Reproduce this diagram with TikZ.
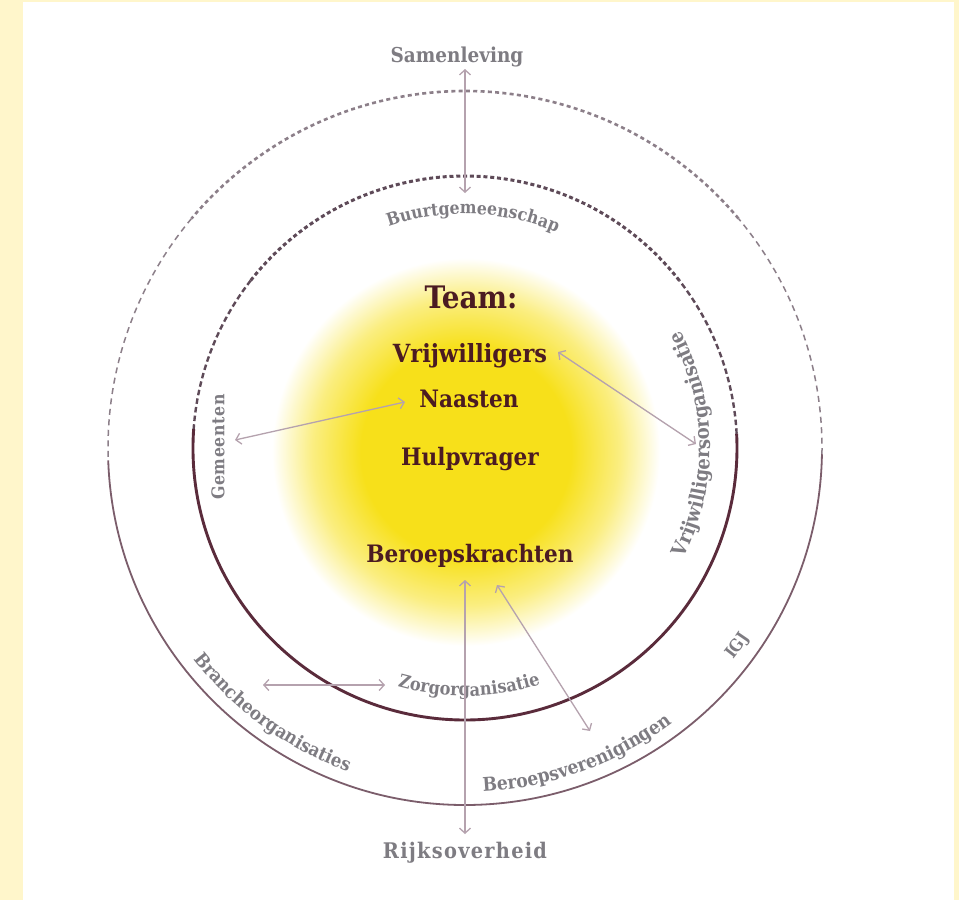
\documentclass[tikz,border=0pt]{standalone}
\usepackage{fontspec}
\setmainfont{DejaVu Serif Condensed}
\newfontfamily\lsfive{DejaVu Serif Condensed}[LetterSpace=5]
\newfontfamily\lssix{DejaVu Serif Condensed}[LetterSpace=6]
\newfontfamily\lstwelve{DejaVu Serif Condensed}[LetterSpace=12]
\newfontfamily\lsfour{DejaVu Serif Condensed}[LetterSpace=4]
\usetikzlibrary{arrows.meta,decorations.text}
\definecolor{cream}{HTML}{FFF6CB}
\definecolor{yel}{HTML}{F7E01A}
\definecolor{teamc}{HTML}{4B1B22}
\definecolor{lblgray}{HTML}{7E7C82}
\definecolor{arrowc}{HTML}{B5A2AE}
\definecolor{outerdc}{HTML}{8C7F89}
\definecolor{outersc}{HTML}{7B5D6B}
\definecolor{innerdc}{HTML}{5E4A58}
\definecolor{innersc}{HTML}{5A2B3B}
\pgfdeclareradialshading{glow}{\pgfpointorigin}{color(0bp)=(yel);color(13bp)=(yel);color(19bp)=(yel!55!white);color(24bp)=(white);color(50bp)=(white)}
\tikzset{
  outerdash/.style={draw=outerdc,line width=1.5pt,dash pattern=on 6pt off 4.5pt},
  outerdot/.style={draw=outerdc,line width=2.6pt,dash pattern=on 4pt off 3.3pt},
  outersolid/.style={draw=outersc,line width=1.8pt},
  innerdash/.style={draw=innerdc,line width=2.4pt,dash pattern=on 5.5pt off 3.2pt},
  innerdot/.style={draw=innerdc,line width=3pt,dash pattern=on 4pt off 2.8pt},
  innersolid/.style={draw=innersc,line width=2.9pt},
  teamlbl/.style={text=teamc,font=\fontsize{24pt}{26pt}\selectfont\bfseries,anchor=base,inner sep=0pt},
  biglbl/.style={text=lblgray,font=\fontsize{20.5pt}{22pt}\selectfont\bfseries,anchor=base,inner sep=0pt},
  curvetext/.style 2 args={decorate,decoration={text along path,text align=center,text={|#1\color{lblgray}|#2}}},
  dblarrow/.style={draw=arrowc,line width=1.3pt,{Straight Barb[length=5pt,width=11pt]}-{Straight Barb[length=5pt,width=11pt]}}
}
\begin{document}
\begin{tikzpicture}[x=1pt,y=1pt]
\useasboundingbox (0,0) rectangle (959,-900);
\fill[cream] (0,0) rectangle (959,-900);
\fill[white] (23,-2) rectangle (954,-900);
\shade[shading=glow] (466,-452) circle (202);

\begin{scope}[shift={(465,-448)}]
  % outer ring
  \draw[outerdash] (-1:357) arc[start angle=-1,end angle=40,radius=357];
  \draw[outerdot] (40:357) arc[start angle=40,end angle=140,radius=357];
  \draw[outerdash] (140:357) arc[start angle=140,end angle=182,radius=357];
  \draw[outersolid] (182:357) arc[start angle=182,end angle=359,radius=357];
  % inner ring
  \draw[innerdash] (3:272) arc[start angle=3,end angle=38,radius=272];
  \draw[innerdot] (38:272) arc[start angle=38,end angle=142,radius=272];
  \draw[innerdash] (142:272) arc[start angle=142,end angle=176,radius=272];
  \draw[innersolid] (176:272) arc[start angle=176,end angle=363,radius=272];
  % curved labels
  \path[curvetext={\lsfive\fontsize{17.5pt}{19pt}\selectfont\bfseries}{Buurtgemeenschap}] (128:234) arc[start angle=128,end angle=48,radius=234];
  \path[curvetext={\lssix\fontsize{20pt}{22pt}\selectfont\bfseries}{Vrijwilligersorganisatie}] (-56:245) arc[start angle=-56,end angle=58,radius=245];
  \path[curvetext={\lsfive\fontsize{18pt}{20pt}\selectfont\bfseries}{Zorgorganisatie}] (232:248) arc[start angle=232,end angle=310,radius=248];
  \path[curvetext={\lstwelve\fontsize{18.5pt}{20pt}\selectfont\bfseries}{Brancheorganisaties}] (189:344) arc[start angle=189,end angle=279,radius=344];
  \path[curvetext={\lssix\fontsize{19pt}{21pt}\selectfont\bfseries}{Beroepsverenigingen}] (248:344) arc[start angle=248,end angle=332,radius=344];
  \path[curvetext={\lsfive\fontsize{17pt}{19pt}\selectfont\bfseries}{IGJ}] (310:342) arc[start angle=310,end angle=338,radius=342];
\end{scope}

\node[text=lblgray,font=\lsfour\fontsize{17.5pt}{19pt}\selectfont\bfseries,rotate=90,inner sep=0pt] (gem) at (218,-447) {Gemeenten};

% centre labels
\node[teamlbl,font=\fontsize{31pt}{33pt}\selectfont\bfseries] (team) at (471,-308) {Team:};
\node[teamlbl,font=\fontsize{25pt}{27pt}\selectfont\bfseries] (vrij) at (470,-362) {Vrijwilligers};
\node[teamlbl] (naas) at (469,-407) {Naasten};
\node[teamlbl] (hulp) at (470,-465) {Hulpvrager};
\node[teamlbl] (ber) at (470,-562) {Beroepskrachten};

\node[biglbl] (samen) at (457,-62) {Samenleving};
\node[biglbl,font=\lssix\fontsize{21.5pt}{23pt}\selectfont\bfseries] (rijk) at (465,-858) {Rijksoverheid};

% arrow end points
\coordinate (sA) at (465,-69);
\coordinate (sB) at (465,-193);
\coordinate (gA) at (405,-402);
\coordinate (gB) at (235,-440);
\coordinate (vA) at (558,-352);
\coordinate (vB) at (696,-444);
\coordinate (zA) at (263,-685);
\coordinate (zB) at (385,-685);
\coordinate (rA) at (465,-580);
\coordinate (rB) at (465,-834);
\coordinate (bA) at (497,-585);
\coordinate (bB) at (590,-731);

\draw[dblarrow] (sA) -- (sB);
\draw[dblarrow] (gA) -- (gB);
\draw[dblarrow] (vA) -- (vB);
\draw[dblarrow] (zA) -- (zB);
\draw[dblarrow] (rA) -- (rB);
\draw[dblarrow] (bA) -- (bB);
\end{tikzpicture}
\end{document}
